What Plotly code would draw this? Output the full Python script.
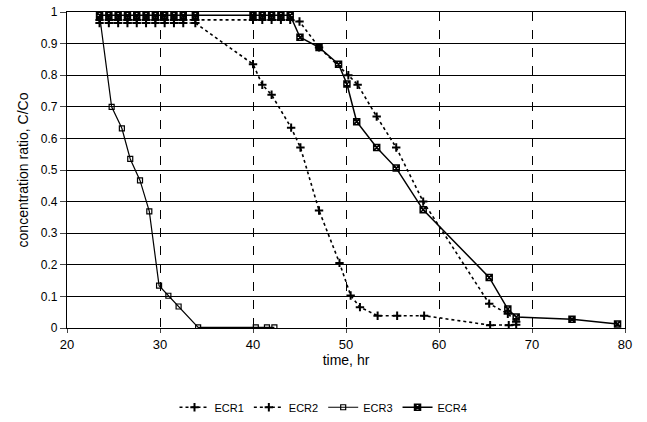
import plotly.graph_objects as go

top_t = [23.5, 24.5, 25.5, 26.5, 27.5, 28.5, 29.5, 30.5, 31.5, 32.5, 33.8]
top_t2 = [40.0, 41.0, 42.0, 43.0, 44.0]

ecr1_t = top_t + [40.0, 41.0, 42.0, 44.1, 45.1, 47.1, 49.3, 50.5, 51.5, 53.4, 55.5, 58.4, 65.5, 67.5, 68.3]
ecr1_c = [0.965] * 11 + [0.835, 0.77, 0.738, 0.634, 0.571, 0.372, 0.206, 0.103, 0.066, 0.039, 0.039, 0.039, 0.009, 0.009, 0.01]

ecr2_t = top_t + top_t2 + [45.0, 47.1, 50.25, 51.25, 53.3, 55.4, 58.3, 65.4, 67.4, 68.3]
ecr2_c = [0.975] * 16 + [0.97, 0.888, 0.80, 0.77, 0.669, 0.571, 0.40, 0.077, 0.045, 0.02]

ecr3_t = [23.5, 24.8, 25.9, 26.8, 27.85, 28.85, 29.9, 30.9, 32.0, 34.1, 40.3, 41.5, 42.3]
ecr3_c = [0.99, 0.70, 0.632, 0.535, 0.467, 0.369, 0.134, 0.102, 0.068, 0.002, 0.002, 0.002, 0.002]

ecr4_t = top_t + top_t2 + [45.05, 47.1, 49.2, 50.1, 51.15, 53.3, 55.4, 58.3, 65.4, 67.4, 68.3, 74.3, 79.2]
ecr4_c = [0.99] * 16 + [0.92, 0.888, 0.835, 0.772, 0.653, 0.571, 0.506, 0.374, 0.160, 0.06, 0.035, 0.028, 0.013]

x_ticks = [20, 30, 40, 50, 60, 70, 80]
y_ticks = [0, 0.1, 0.2, 0.3, 0.4, 0.5, 0.6, 0.7, 0.8, 0.9, 1]
y_labels = ["0", "0.1", "0.2", "0.3", "0.4", "0.5", "0.6", "0.7", "0.8", "0.9", "1"]

fig = go.Figure()
fig.add_trace(go.Scatter(x=ecr1_t, y=ecr1_c, name="ECR1", mode="lines+markers",
                         line=dict(color="black", width=1.6, dash="dot"),
                         marker=dict(symbol="cross-thin-open", size=6, line=dict(color="black", width=2))))
fig.add_trace(go.Scatter(x=ecr2_t, y=ecr2_c, name="ECR2", mode="lines+markers",
                         line=dict(color="black", width=1.6, dash="dot"),
                         marker=dict(symbol="cross-thin-open", size=6, line=dict(color="black", width=2))))
fig.add_trace(go.Scatter(x=ecr3_t, y=ecr3_c, name="ECR3", mode="lines+markers",
                         line=dict(color="black", width=1.2),
                         marker=dict(symbol="square-open", size=5, color="black", line=dict(color="black", width=1.2))))
fig.add_trace(go.Scatter(x=ecr4_t, y=ecr4_c, name="ECR4", mode="lines+markers",
                         line=dict(color="black", width=1.5),
                         marker=dict(symbol="square-x-open", size=6, color="black", line=dict(color="black", width=1.5))))

fig.update_layout(
    width=647, height=422,
    margin=dict(l=67, r=22, t=12, b=94, autoexpand=False),
    paper_bgcolor="white", plot_bgcolor="white",
    font=dict(family="Liberation Sans, Arial, sans-serif", size=12, color="black"),
    showlegend=True,
    legend=dict(orientation="h", x=0.5, xref="container", xanchor="center",
                y=0.035, yref="container", yanchor="middle",
                font=dict(size=11), itemwidth=30, tracegroupgap=0),
    xaxis=dict(range=[20, 80], tickvals=x_ticks, ticks="outside", ticklen=4,
               showline=True, linecolor="black", linewidth=1.2, mirror=True,
               showgrid=True, gridcolor="black", gridwidth=1, griddash="dash",
               zeroline=False, title=dict(text="time, hr", standoff=4),
               tickfont=dict(size=13)),
    yaxis=dict(range=[0, 1], tickvals=y_ticks, ticktext=y_labels, ticks="outside", ticklen=6,
               showline=True, linecolor="black", linewidth=1.2, mirror=True,
               showgrid=True, gridcolor="black", gridwidth=1.2,
               zeroline=False, title=dict(text="concentration ratio, C/Co", standoff=8),
               tickfont=dict(size=12)),
)

fig.write_html("out.html")
